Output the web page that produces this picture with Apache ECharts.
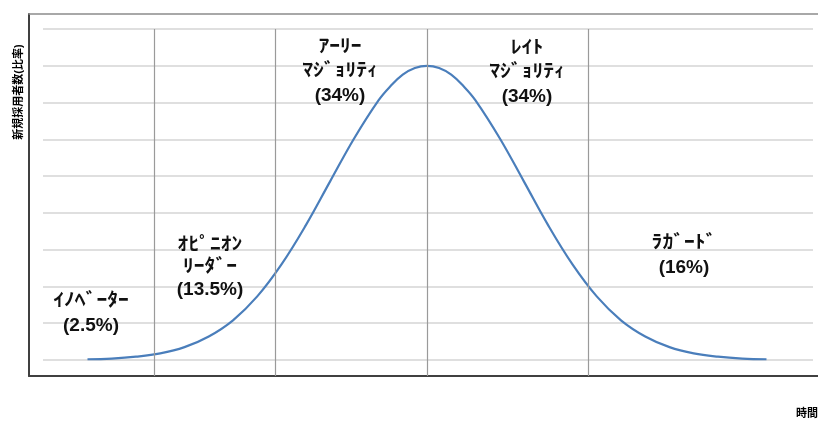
<!DOCTYPE html>
<html>
<head>
<meta charset="utf-8">
<script src="https://cdn.jsdelivr.net/npm/echarts@6/dist/echarts.min.js"></script>
<style>html,body{margin:0;padding:0;background:#fff;}#c{width:818px;height:421px;}</style>
</head>
<body>
<div id="c"></div>
<script>
// time positions (σ units from the peak) and adoption values (grid units)
const timeX = [-3.5,-3.25,-3,-2.75,-2.5,-2.25,-2,-1.75,-1.5,-1.25,-1,-0.75,-0.5,-0.375,-0.25,-0.125,0,0.125,0.25,0.375,0.5,0.75,1,1.25,1.5,1.75,2,2.25,2.5,2.75,3,3.25,3.5];
const adopters = [0.02,0.04,0.09,0.18,0.35,0.64,1.08,1.73,2.60,3.66,4.85,6.03,7.06,7.45,7.76,7.94,8.00,7.94,7.76,7.45,7.06,6.03,4.85,3.66,2.60,1.73,1.08,0.64,0.35,0.18,0.09,0.04,0.02];
// segment boundaries on the time axis
const dividers = [-2.81, -1.56, 0, 1.66];
// segment labels: name lines, then share
const segNames = [['ｲﾉﾍﾞｰﾀｰ'], ['ｵﾋﾟﾆｵﾝ','ﾘｰﾀﾞｰ'], ['ｱｰﾘｰ','ﾏｼﾞｮﾘﾃｨ'], ['ﾚｲﾄ','ﾏｼﾞｮﾘﾃｨ'], ['ﾗｶﾞｰﾄﾞ']];
const segShares = ['(2.5%)', '(13.5%)', '(34%)', '(34%)', '(16%)'];
const yTitle = '新規採用者数(比率)';
const xTitle = '時間';

const Y_MIN = -0.435, Y_MAX = 9.408;
const chart = echarts.init(document.getElementById('c'));
const FONT = '"Liberation Sans", "Noto Sans CJK JP", sans-serif';
// layout: [centerX, first line centerY, line step]
const labelLayout = [[91,301,25],[210,245,22.5],[340,47,24.5],[527,48,24.5],[684,243,25]];
const textEls = [];
segNames.forEach((lines, i) => {
  const [cx, cy, step] = labelLayout[i];
  lines.forEach((ln, j) => {
    textEls.push({type:'text', x:cx, y:cy + j*step, scaleX:1.2, z:10,
      style:{text:ln, font:'bold 18px '+FONT, fill:'#111', align:'center', verticalAlign:'middle'}});
  });
  textEls.push({type:'text', x:cx, y:cy + lines.length*step, z:10,
    style:{text:segShares[i], font:'bold 19px '+FONT, fill:'#111', align:'center', verticalAlign:'middle'}});
});

chart.setOption({
  animation: false,
  grid: [
    {left: 29, right: 0, top: 14, bottom: 45},
    {left: 43, right: 5, top: 29, bottom: 61}
  ],
  xAxis: [
    {type:'value', gridIndex:0, min:-4.103, max:4.031, axisLine:{show:true, onZero:false, lineStyle:{color:'#404040', width:2}}, axisTick:{show:false}, axisLabel:{show:false}, splitLine:{show:false}},
    {type:'value', gridIndex:0, position:'top', min:-4.103, max:4.031, axisLine:{show:true, onZero:false, lineStyle:{color:'#8c8c8c', width:1.5}}, axisTick:{show:false}, axisLabel:{show:false}, splitLine:{show:false}},
    {type:'value', gridIndex:1, min:0, max:1, show:false}
  ],
  yAxis: [
    {type:'value', gridIndex:0, min:Y_MIN, max:Y_MAX, axisLine:{show:true, onZero:false, lineStyle:{color:'#404040', width:2}}, axisTick:{show:false}, axisLabel:{show:false}, splitLine:{show:false}},
    {type:'value', gridIndex:1, min:0, max:9, interval:1, axisLine:{show:false}, axisTick:{show:false}, axisLabel:{show:false}, splitLine:{show:true, lineStyle:{color:'#d4d4d4', width:1.5}}}
  ],
  series: [
    {
      type:'line', xAxisIndex:0, yAxisIndex:0, z:3,
      data: timeX.map((x,i)=>[x, adopters[i]]),
      smooth: 0.4, showSymbol:false,
      lineStyle:{color:'#4a7ebb', width:2.2},
      markLine:{
        silent:true, symbol:'none', label:{show:false}, animation:false,
        lineStyle:{color:'#9a9a9a', width:1.2, type:'solid'},
        data: dividers.map(d=>[{coord:[d,9]},{coord:[d,Y_MIN]}])
      }
    }
  ],
  graphic: [
    {type:'text', x:19, y:92, rotation:Math.PI/2, style:{text:yTitle, font:'bold 11px '+FONT, fill:'#000', align:'center', verticalAlign:'middle'}},
    {type:'text', x:807, y:414, style:{text:xTitle, font:'bold 11px '+FONT, fill:'#000', align:'center', verticalAlign:'middle'}}
  ].concat(textEls)
});
</script>
</body>
</html>
